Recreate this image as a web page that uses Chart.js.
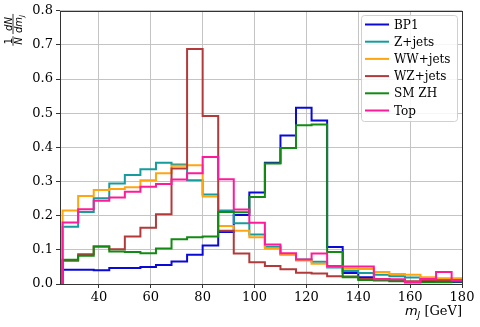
<!DOCTYPE html>
<html>
<head>
<meta charset="utf-8">
<script src="https://cdn.jsdelivr.net/npm/chart.js@4/dist/chart.umd.min.js"></script>
<style>
  html, body { margin: 0; padding: 0; background: #fff; }
  #box { width: 480px; height: 327px; }
</style>
</head>
<body>
<div id="box"><canvas id="grafico" width="480" height="327"></canvas></div>
<script>
// bin edges in GeV (6 GeV bins)
const binEdges = [26, 32, 38, 44, 50, 56, 62, 68, 74, 80, 86, 92, 98, 104, 110, 116, 122, 128, 134, 140, 146, 152, 158, 164, 170, 176, 182];

const seriesNames = ['BP1', 'Z+jets', 'WW+jets', 'WZ+jets', 'SM ZH', 'Top'];

const bp1 = [0.042, 0.042, 0.040, 0.047, 0.047, 0.050, 0.056, 0.066, 0.086, 0.113, 0.152, 0.202, 0.268, 0.355, 0.435, 0.516, 0.479, 0.108, 0.032, 0.020, 0.015, 0.012, 0.005, 0.006, 0.006, 0.006];
const zJets = [0.168, 0.211, 0.251, 0.294, 0.319, 0.336, 0.355, 0.350, 0.304, 0.262, 0.215, 0.178, 0.145, 0.109, 0.087, 0.072, 0.065, 0.048, 0.038, 0.032, 0.027, 0.023, 0.019, 0.015, 0.014, 0.015];
const wwJets = [0.215, 0.258, 0.275, 0.278, 0.283, 0.304, 0.324, 0.346, 0.348, 0.256, 0.170, 0.156, 0.137, 0.104, 0.086, 0.069, 0.059, 0.052, 0.045, 0.044, 0.035, 0.029, 0.027, 0.020, 0.017, 0.017];
const wzJets = [0.068, 0.087, 0.110, 0.102, 0.139, 0.165, 0.204, 0.338, 0.688, 0.492, 0.156, 0.089, 0.064, 0.053, 0.043, 0.033, 0.031, 0.023, 0.022, 0.015, 0.015, 0.010, 0.008, 0.012, 0.010, 0.010];
const smZH = [0.071, 0.083, 0.110, 0.095, 0.094, 0.090, 0.104, 0.131, 0.137, 0.139, 0.211, 0.210, 0.255, 0.353, 0.398, 0.465, 0.467, 0.094, 0.020, 0.012, 0.010, 0.008, 0.005, 0.005, 0.005, 0.007];
const topQuark = [0.180, 0.219, 0.244, 0.253, 0.270, 0.285, 0.293, 0.306, 0.324, 0.372, 0.307, 0.218, 0.179, 0.116, 0.090, 0.072, 0.089, 0.053, 0.051, 0.051, 0.014, 0.014, 0.006, 0.015, 0.035, 0.011];

const xTicks = [40, 60, 80, 100, 120, 140, 160, 180];
const yTicks = [0.0, 0.1, 0.2, 0.3, 0.4, 0.5, 0.6, 0.7, 0.8];

const cores = ['#0a0ad6', '#169c9c', '#ffa510', '#b23a3a', '#138a13', '#ff1a9a'];

// turn bin values into step points (start at 0 on the first edge)
function passos(valores) {
  const pts = [{ x: binEdges[0], y: 0 }];
  valores.forEach((v, i) => pts.push({ x: binEdges[i], y: v }));
  pts.push({ x: binEdges[binEdges.length - 1], y: valores[valores.length - 1] });
  return pts;
}

const serif = "'DejaVu Serif', serif";
const sans = "'DejaVu Sans', sans-serif";

// draws a small fraction centred at u (rotated frame), bar at v=0
function fracao(ctx, u, num, den, sub) {
  ctx.font = 'italic 10px ' + sans;
  const wn = ctx.measureText(num).width;
  const wd = ctx.measureText(den).width;
  ctx.font = 'italic 7px ' + sans;
  const ws = sub ? ctx.measureText(sub).width : 0;
  const wBar = Math.max(wn, wd + ws) + 2;
  ctx.font = (num === '1' ? '' : 'italic ') + '10px ' + sans;
  ctx.textBaseline = 'alphabetic';
  ctx.textAlign = 'left';
  ctx.fillText(num, u - wn / 2, -1.5);
  ctx.font = 'italic 10px ' + sans;
  ctx.textBaseline = 'top';
  const x0 = u - (wd + ws) / 2;
  ctx.fillText(den, x0, 1.5);
  if (sub) {
    ctx.font = 'italic 7px ' + sans;
    ctx.fillText(sub, x0 + wd, 5.5);
  }
  ctx.beginPath();
  ctx.moveTo(u - wBar / 2, 0);
  ctx.lineTo(u + wBar / 2, 0);
  ctx.stroke();
}

const molduraPlugin = {
  id: 'moldura',
  afterDatasetsDraw(chart) {
    const { ctx, chartArea: a } = chart;
    ctx.save();
    ctx.strokeStyle = '#333';
    ctx.lineWidth = 1;
    ctx.strokeRect(Math.round(a.left) + 0.5, Math.round(a.top) + 0.5, Math.round(a.right - a.left), Math.round(a.bottom - a.top));
    ctx.restore();
  },
  afterDraw(chart) {
    const { ctx, chartArea: a } = chart;

    // legend box inside the plot
    ctx.save();
    const lx = 361, ly = 15, lw = 96, lh = 106;
    ctx.fillStyle = 'rgba(255,255,255,0.85)';
    ctx.strokeStyle = '#d0d0d0';
    ctx.lineWidth = 1;
    ctx.beginPath();
    ctx.roundRect(lx + 0.5, ly + 0.5, lw, lh, 3);
    ctx.fill();
    ctx.stroke();
    ctx.font = '12px ' + serif;
    ctx.textBaseline = 'middle';
    ctx.fillStyle = '#000';
    seriesNames.forEach((nome, i) => {
      const y = 24.5 + i * 17.2;
      ctx.strokeStyle = cores[i];
      ctx.lineWidth = 2;
      ctx.beginPath();
      ctx.moveTo(365, y);
      ctx.lineTo(389, y);
      ctx.stroke();
      ctx.fillText(nome, 394, y + 1);
    });
    ctx.restore();

    // x title: m_J [GeV], right aligned
    ctx.save();
    ctx.fillStyle = '#000';
    ctx.textBaseline = 'alphabetic';
    const base = 315;
    ctx.font = '13px ' + serif;
    const resto = ' [GeV]';
    const wResto = ctx.measureText(resto).width;
    ctx.font = 'italic 13px ' + sans;
    const wM = ctx.measureText('m').width;
    ctx.font = 'italic 9px ' + sans;
    const wJ = ctx.measureText('J').width;
    const x0 = a.right - wResto - wM - wJ;
    ctx.font = 'italic 13px ' + sans;
    ctx.fillText('m', x0, base);
    ctx.font = 'italic 9px ' + sans;
    ctx.fillText('J', x0 + wM, base + 3);
    ctx.font = '13px ' + serif;
    ctx.fillText(resto, x0 + wM + wJ, base);
    ctx.restore();

    // y title: 1/N dN/dm_J, rotated
    ctx.save();
    ctx.translate(13, 29);
    ctx.rotate(-Math.PI / 2);
    ctx.fillStyle = '#000';
    ctx.strokeStyle = '#000';
    ctx.lineWidth = 0.8;
    fracao(ctx, -12, '1', 'N', '');
    fracao(ctx, 5, 'dN', 'dm', 'J');
    ctx.restore();
  }
};

function configurar() {
  const canvas = document.getElementById('grafico');
  const dados = [bp1, zJets, wwJets, wzJets, smZH, topQuark];
  new Chart(canvas, {
    type: 'line',
    data: {
      datasets: dados.map((vals, i) => ({
        label: seriesNames[i],
        data: passos(vals),
        stepped: 'before',
        borderColor: cores[i],
        borderWidth: 2,
        pointRadius: 0,
        fill: false,
        order: dados.length - i,
      })),
    },
    options: {
      responsive: false,
      animation: false,
      events: [],
      layout: { padding: { left: 0, top: 10, right: 18, bottom: 0 } },
      plugins: {
        legend: { display: false },
        tooltip: { enabled: false },
      },
      scales: {
        x: {
          type: 'linear',
          min: 25,
          max: 180,
          afterBuildTicks(scale) {
            scale.ticks = xTicks.map((v) => ({ value: v }));
          },
          afterFit(scale) {
            scale.height = 43;
          },
          grid: { color: '#c4c4c4', lineWidth: 1, tickLength: 4, tickColor: '#333' },
          border: { display: false },
          ticks: {
            font: { family: serif, size: 13 },
            color: '#000',
            padding: 2,
            maxRotation: 0,
          },
        },
        y: {
          min: 0,
          max: 0.8,
          afterBuildTicks(scale) {
            scale.ticks = yTicks.map((v) => ({ value: v }));
          },
          afterFit(scale) {
            scale.width = 60;
          },
          grid: { color: '#c4c4c4', lineWidth: 1, tickLength: 4, tickColor: '#333' },
          border: { display: false },
          ticks: {
            font: { family: serif, size: 13 },
            color: '#000',
            padding: 3,
            callback: (v) => Number(v).toFixed(1),
          },
        },
      },
    },
    plugins: [molduraPlugin],
  });
}

document.addEventListener('DOMContentLoaded', configurar);
</script>
</body>
</html>
